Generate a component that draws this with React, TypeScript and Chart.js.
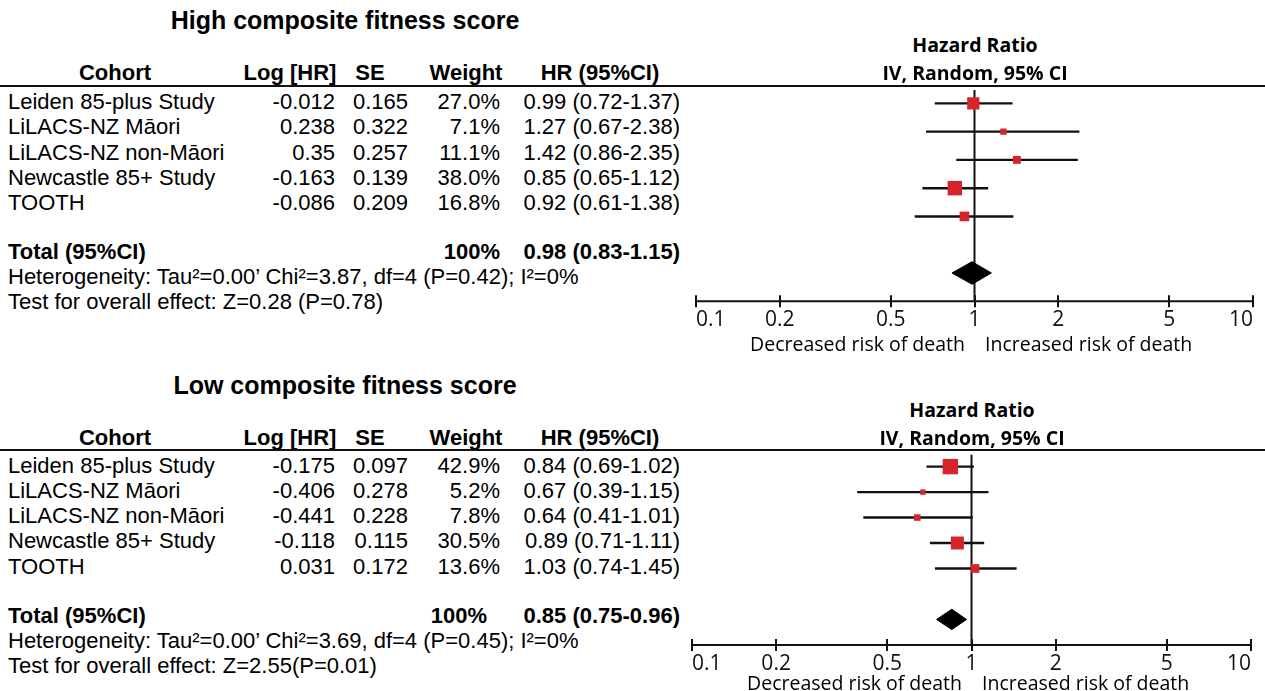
import React, { useEffect, useRef } from 'react';
import { Chart, registerables } from 'chart.js';

Chart.register(...registerables);

// ---------- data ----------
const cohorts = ['Leiden 85-plus Study', 'LiLACS-NZ Māori', 'LiLACS-NZ non-Māori', 'Newcastle 85+ Study', 'TOOTH'];

const highLogHR = [-0.012, 0.238, 0.35, -0.163, -0.086];
const highSE = [0.165, 0.322, 0.257, 0.139, 0.209];
const highWeight = [27.0, 7.1, 11.1, 38.0, 16.8];
const highHR = [0.99, 1.27, 1.42, 0.85, 0.92];
const highLo = [0.72, 0.67, 0.86, 0.65, 0.61];
const highHi = [1.37, 2.38, 2.35, 1.12, 1.38];
const highTotal = [0.98, 0.83, 1.15]; // estimate, lower, upper
const highHet = 'Heterogeneity: Tau²=0.00’ Chi²=3.87, df=4 (P=0.42); I²=0%';
const highTest = 'Test for overall effect: Z=0.28 (P=0.78)';

const lowLogHR = [-0.175, -0.406, -0.441, -0.118, 0.031];
const lowSE = [0.097, 0.278, 0.228, 0.115, 0.172];
const lowWeight = [42.9, 5.2, 7.8, 30.5, 13.6];
const lowHR = [0.84, 0.67, 0.64, 0.89, 1.03];
const lowLo = [0.69, 0.39, 0.41, 0.71, 0.74];
const lowHi = [1.02, 1.15, 1.01, 1.11, 1.45];
const lowTotal = [0.85, 0.75, 0.96];
const lowHet = 'Heterogeneity: Tau²=0.00’ Chi²=3.69, df=4 (P=0.45); I²=0%';
const lowTest = 'Test for overall effect: Z=2.55(P=0.01)';

const axisTicks = [0.1, 0.2, 0.5, 1, 2, 5, 10];
const headers = ['Cohort', 'Log [HR]', 'SE', 'Weight', 'HR (95%CI)'];

// ---------- styles ----------
const ARIAL = '"Liberation Sans", Arial, Helvetica, sans-serif';
const SANS2 = '"Open Sans", "DejaVu Sans", sans-serif';
const RED = '#d7242a';
const INK = '#111111';

type TProps = { x: number; y: number; align?: 'left' | 'right' | 'center'; bold?: boolean; size?: number; font?: string; children: React.ReactNode };
const T = ({ x, y, align = 'left', bold = false, size = 22, font = ARIAL, children }: TProps) => {
  const W = 700;
  const left = align === 'left' ? x : align === 'right' ? x - W : x - W / 2;
  return (
    <div
      style={{
        position: 'absolute',
        left,
        top: y - 13,
        width: W,
        height: 26,
        lineHeight: '26px',
        fontFamily: font,
        fontSize: size,
        fontWeight: bold ? 700 : 400,
        textAlign: align,
        whiteSpace: 'nowrap',
        color: '#000',
      }}
    >
      {children}
    </div>
  );
};

const fmt2 = (v: number) => v.toFixed(2);

type SectionProps = {
  title: string;
  logHR: number[]; se: number[]; weight: number[]; hr: number[]; lo: number[]; hi: number[];
  total: number[]; het: string; test: string;
  titleY: number; headerY: number; lineY: number; rowY: number[]; totalY: number; hetY: number; testY: number;
  totalWRight: number;
};

const Section = (p: SectionProps) => (
  <>
    <T x={345} y={p.titleY} align="center" bold size={25}>{p.title}</T>
    <T x={115} y={p.headerY} align="center" bold>{headers[0]}</T>
    <T x={290} y={p.headerY} align="center" bold>{headers[1]}</T>
    <T x={370} y={p.headerY} align="center" bold>{headers[2]}</T>
    <T x={466} y={p.headerY} align="center" bold>{headers[3]}</T>
    <T x={600} y={p.headerY} align="center" bold>{headers[4]}</T>
    <div style={{ position: 'absolute', left: 0, top: p.lineY - 1, width: 1265, height: 2, background: INK }} />
    {cohorts.map((c, i) => (
      <React.Fragment key={c}>
        <T x={8} y={p.rowY[i]}>{c}</T>
        <T x={335} y={p.rowY[i]} align="right">{String(p.logHR[i])}</T>
        <T x={408} y={p.rowY[i]} align="right">{String(p.se[i])}</T>
        <T x={500} y={p.rowY[i]} align="right">{p.weight[i].toFixed(1) + '%'}</T>
        <T x={680} y={p.rowY[i]} align="right">{`${fmt2(p.hr[i])} (${fmt2(p.lo[i])}-${fmt2(p.hi[i])})`}</T>
      </React.Fragment>
    ))}
    <T x={8} y={p.totalY} bold>Total (95%CI)</T>
    <T x={p.totalWRight} y={p.totalY} align="right" bold>100%</T>
    <T x={680} y={p.totalY} align="right" bold>{`${fmt2(p.total[0])} (${fmt2(p.total[1])}-${fmt2(p.total[2])})`}</T>
    <T x={8} y={p.hetY}>{p.het}</T>
    <T x={8} y={p.testY}>{p.test}</T>
  </>
);

// ---------- forest chart ----------
type ForestProps = {
  hr: number[]; lo: number[]; hi: number[]; weight: number[]; total: number[];
  left: number; top: number; width: number; height: number;
  pad: { left: number; right: number; top: number; bottom: number };
};

const axisPlugin = {
  id: 'forestAxis',
  afterDatasetsDraw(chart: any) {
    const { ctx, chartArea, scales } = chart;
    const xs = scales.x;
    const yb = chartArea.bottom;
    const last = axisTicks.length - 1;
    ctx.save();
    ctx.strokeStyle = INK;
    ctx.lineWidth = 2;
    ctx.beginPath();
    ctx.moveTo(xs.getPixelForValue(axisTicks[0]), yb);
    ctx.lineTo(xs.getPixelForValue(axisTicks[last]), yb);
    ctx.stroke();
    axisTicks.forEach((v) => {
      const px = Math.round(xs.getPixelForValue(v));
      ctx.beginPath();
      ctx.moveTo(px, yb - 6);
      ctx.lineTo(px, yb + 6);
      ctx.stroke();
    });
    ctx.fillStyle = INK;
    ctx.font = '21px "Open Sans", "DejaVu Sans", sans-serif';
    ctx.textBaseline = 'middle';
    axisTicks.forEach((v, i) => {
      const px = xs.getPixelForValue(v);
      ctx.textAlign = i === 0 ? 'left' : i === last ? 'right' : 'center';
      ctx.fillText(String(v), px, yb + 19);
    });
    ctx.restore();
  },
};

const DIAMOND_ROW = 6;
const DIAMOND_HALF = 0.4;

const Forest = (p: ForestProps) => {
  const ref = useRef<HTMLCanvasElement>(null);
  useEffect(() => {
    if (!ref.current) return;
    const ciSets = p.hr.map((_, i) => ({
      type: 'line' as const,
      data: [{ x: p.lo[i], y: i }, { x: p.hi[i], y: i }],
      borderColor: INK,
      borderWidth: 2.4,
      pointRadius: 0,
      showLine: true,
      clip: false,
      order: 3,
    }));
    const refLine = {
      type: 'line' as const,
      data: [{ x: 1, y: -0.47 }, { x: 1, y: 7 }],
      borderColor: INK,
      borderWidth: 2,
      pointRadius: 0,
      showLine: true,
      clip: false,
      order: 4,
    };
    const squares = {
      type: 'scatter' as const,
      data: p.hr.map((v, i) => ({ x: v, y: i })),
      pointStyle: 'rect',
      pointRadius: p.weight.map((w) => (2.35 * Math.sqrt(w)) / Math.SQRT2),
      pointHoverRadius: p.weight.map((w) => (2.35 * Math.sqrt(w)) / Math.SQRT2),
      backgroundColor: RED,
      borderWidth: 0,
      clip: false,
      order: 1,
    };
    const [est, tlo, thi] = p.total;
    const diamond = {
      type: 'line' as const,
      data: [
        { x: tlo, y: DIAMOND_ROW },
        { x: est, y: DIAMOND_ROW - DIAMOND_HALF },
        { x: thi, y: DIAMOND_ROW },
        { x: est, y: DIAMOND_ROW + DIAMOND_HALF },
        { x: tlo, y: DIAMOND_ROW },
      ],
      borderColor: '#000',
      backgroundColor: '#000',
      borderWidth: 1,
      pointRadius: 0,
      showLine: true,
      fill: 'shape',
      tension: 0,
      clip: false,
      order: 0,
    };
    const chart = new Chart(ref.current, {
      type: 'scatter',
      data: { datasets: [...ciSets, refLine, squares, diamond] as any },
      options: {
        animation: false,
        responsive: false,
        maintainAspectRatio: false,
        layout: { padding: p.pad },
        plugins: { legend: { display: false }, tooltip: { enabled: false } },
        events: [],
        scales: {
          x: { type: 'logarithmic', min: axisTicks[0], max: axisTicks[axisTicks.length - 1], display: false },
          y: { type: 'linear', min: -0.5, max: 7, reverse: true, display: false },
        },
      } as any,
      plugins: [axisPlugin],
    });
    return () => chart.destroy();
  }, []);
  return (
    <canvas
      ref={ref}
      width={p.width}
      height={p.height}
      style={{ position: 'absolute', left: p.left, top: p.top, width: p.width, height: p.height }}
    />
  );
};

const ForestTexts = ({ cx, t1, t2, riskY }: { cx: number; t1: number; t2: number; riskY: number }) => (
  <>
    <T x={cx} y={t1} align="center" bold size={19.5} font={SANS2}>Hazard Ratio</T>
    <T x={cx} y={t2} align="center" bold size={19.5} font={SANS2}>IV, Random, 95% CI</T>
    <T x={cx - 10} y={riskY} align="right" size={19.5} font={SANS2}>Decreased risk of death</T>
    <T x={cx + 10} y={riskY} size={19.5} font={SANS2}>Increased risk of death</T>
  </>
);

export default function App() {
  return (
    <div style={{ position: 'absolute', left: 0, top: 0, width: 1265, height: 691, background: '#fff', overflow: 'hidden' }}>
      <Section
        title="High composite fitness score"
        logHR={highLogHR} se={highSE} weight={highWeight} hr={highHR} lo={highLo} hi={highHi}
        total={highTotal} het={highHet} test={highTest}
        titleY={20} headerY={73} lineY={86} rowY={[102, 127, 153, 178, 203]} totalY={252} hetY={277} testY={302}
        totalWRight={500}
      />
      <Section
        title="Low composite fitness score"
        logHR={lowLogHR} se={lowSE} weight={lowWeight} hr={lowHR} lo={lowLo} hi={lowHi}
        total={lowTotal} het={lowHet} test={lowTest}
        titleY={385} headerY={438} lineY={450} rowY={[466, 491, 516, 541, 567]} totalY={616} hetY={641} testY={666}
        totalWRight={487}
      />
      <Forest
        hr={highHR} lo={highLo} hi={highHi} weight={highWeight} total={highTotal}
        left={680} top={79} width={585} height={281}
        pad={{ left: 16, right: 12, top: 1, bottom: 58.75 }}
      />
      <Forest
        hr={lowHR} lo={lowLo} hi={lowHi} weight={lowWeight} total={lowTotal}
        left={680} top={443} width={585} height={248}
        pad={{ left: 12, right: 14, top: 0.2, bottom: 46.1 }}
      />
      <ForestTexts cx={975} t1={45} t2={73} riskY={344} />
      <ForestTexts cx={972} t1={410} t2={438} riskY={683} />
    </div>
  );
}
